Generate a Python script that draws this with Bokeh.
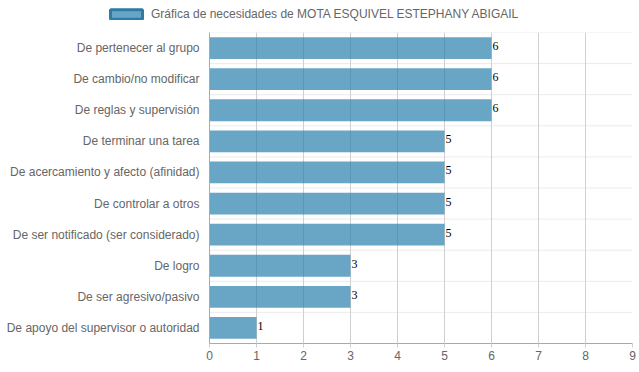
from bokeh.plotting import figure
from bokeh.layouts import column
from bokeh.models import Range1d, FactorRange, FixedTicker, Legend, LegendItem, ColumnDataSource
from bokeh.core.properties import value
from bokeh.embed import file_html
from bokeh.resources import INLINE

categories = [
    "De pertenecer al grupo",
    "De cambio/no modificar",
    "De reglas y supervisión",
    "De terminar una tarea",
    "De acercamiento y afecto (afinidad)",
    "De controlar a otros",
    "De ser notificado (ser considerado)",
    "De logro",
    "De ser agresivo/pasivo",
    "De apoyo del supervisor o autoridad",
]
values = [6, 6, 6, 5, 5, 5, 5, 3, 3, 1]
x_ticks = [0, 1, 2, 3, 4, 5, 6, 7, 8, 9]
series_name = "Gráfica de necesidades de MOTA ESQUIVEL ESTEPHANY ABIGAIL"

FONT = "Liberation Sans"
BAR_FILL = "#2a80ae"
BAR_ALPHA = 0.7

# ---- legend strip ----
top = figure(width=639, height=32, x_range=Range1d(0, 1), y_range=Range1d(0, 1),
             x_axis_type=None, y_axis_type=None, output_backend="svg", toolbar_location=None,
             min_border=0)
top.frame_align = False
top.outline_line_color = None
top.xgrid.grid_line_color = None
top.ygrid.grid_line_color = None
# swatch renderer: zero-size bar far outside the visible range (only its legend entry shows)
dummy = top.hbar(y=[0.5], right=[5], left=[5], height=0, fill_color=BAR_FILL, fill_alpha=BAR_ALPHA,
                 line_color="#2e7ba6", line_width=3)
legend = Legend(items=[LegendItem(label=series_name, renderers=[dummy])],
                location=(106, 11), orientation="horizontal",
                glyph_width=40, glyph_height=12, label_height=12, label_standoff=5,
                padding=0, margin=0, border_line_color=None, background_fill_alpha=0,
                label_text_font=FONT, label_text_font_size="12px", label_text_color="#666666")
top.add_layout(legend, "center")

# ---- main chart ----
p = figure(
    width=639, height=340,
    y_range=FactorRange(factors=list(reversed(categories)), range_padding=0),
    x_range=Range1d(0, 9),
    output_backend="svg", toolbar_location=None,
    min_border_left=209, min_border_right=7, min_border_top=0, min_border_bottom=29,
)
p.frame_align = False
p.outline_line_color = None
p.background_fill_color = "white"

seg = ColumnDataSource(dict(
    y=[(c, -0.5) for c in categories] + [(categories[0], 0.5)],
    x0=[0] * (len(categories) + 1),
    x1=[9] * (len(categories) + 1),
))
p.segment(x0="x0", x1="x1", y0="y", y1="y", source=seg, line_color="#ebebeb", line_width=1, level="underlay")

src = ColumnDataSource(dict(y=categories, v=values, t=[str(v) for v in values]))
p.hbar(y="y", right="v", left=0, height=0.7, source=src,
       fill_color=BAR_FILL, fill_alpha=BAR_ALPHA, line_color=None)

p.text(x="v", y="y", text="t", source=src, x_offset=1, y_offset=-2,
       text_font=value("Liberation Serif"), text_font_size="12px",
       text_color="black", text_baseline="middle", text_align="left")

p.xaxis.ticker = FixedTicker(ticks=x_ticks)
p.xaxis.major_label_text_font = FONT
p.xaxis.major_label_text_font_size = "12px"
p.xaxis.major_label_text_color = "#666666"
p.xaxis.axis_line_color = "#aaaaaa"
p.xaxis.major_tick_line_color = "#d0d0d0"
p.xaxis.major_tick_in = 0
p.xaxis.major_tick_out = 4
p.xaxis.minor_tick_line_color = None
p.xaxis.major_label_standoff = 3

p.yaxis.major_label_text_font = FONT
p.yaxis.major_label_text_font_size = "12px"
p.yaxis.major_label_text_color = "#666666"
p.yaxis.axis_line_color = "#aaaaaa"
p.yaxis.major_tick_line_color = None
p.yaxis.major_tick_in = 0
p.yaxis.major_tick_out = 0
p.yaxis.minor_tick_line_color = None
p.yaxis.major_label_standoff = 10

p.xgrid.ticker = FixedTicker(ticks=x_ticks)
p.xgrid.grid_line_color = "#d0d0d0"
p.ygrid.grid_line_color = None

layout = column(top, p, spacing=0)
open("out.html", "w").write(file_html(layout, INLINE))
